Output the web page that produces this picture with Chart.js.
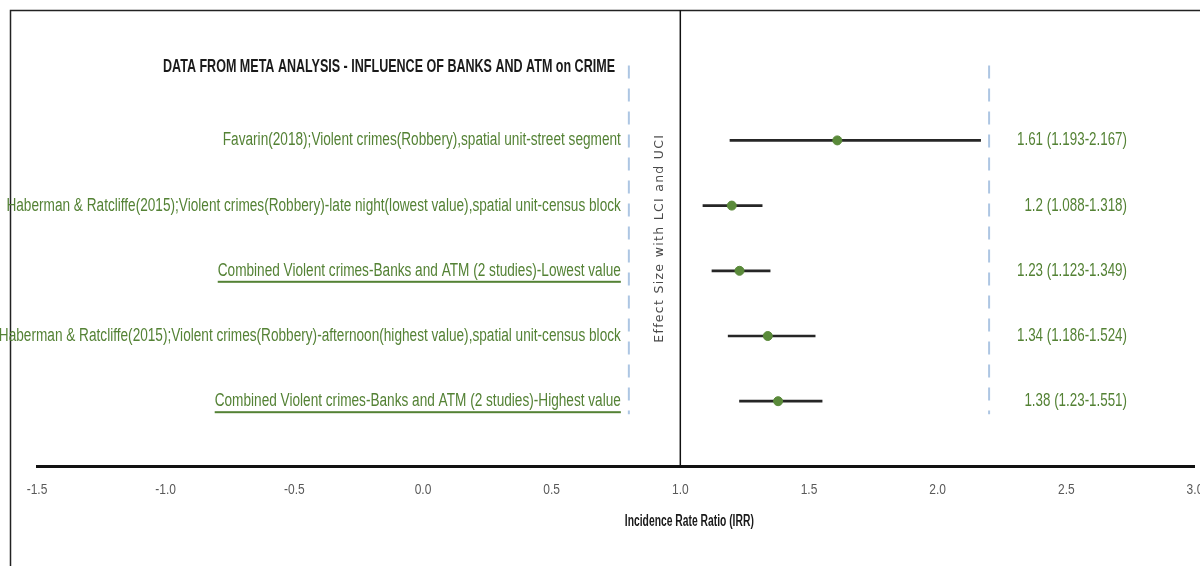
<!DOCTYPE html>
<html>
<head>
<meta charset="utf-8">
<title>Forest plot - banks and ATM</title>
<script src="https://cdn.jsdelivr.net/npm/chart.js@4.4.1/dist/chart.umd.min.js"></script>
<style>
  html, body { margin: 0; padding: 0; background: #fff; }
  #wrap { position: relative; width: 1200px; height: 566px; overflow: hidden; }
</style>
</head>
<body>
<div id="wrap"><canvas id="forest"></canvas></div>
<script>
// data
const chartTitle = 'DATA FROM META ANALYSIS - INFLUENCE OF BANKS AND ATM on CRIME';
const studies = [
    'Favarin(2018);Violent crimes(Robbery),spatial unit-street segment',
    'Haberman & Ratcliffe(2015);Violent crimes(Robbery)-late night(lowest value),spatial unit-census block',
    'Combined Violent crimes-Banks and ATM (2 studies)-Lowest value',
    'Haberman & Ratcliffe(2015);Violent crimes(Robbery)-afternoon(highest value),spatial unit-census block',
    'Combined Violent crimes-Banks and ATM (2 studies)-Highest value'
];
const estimates = [1.61, 1.2, 1.23, 1.34, 1.38];
const lowerCI = [1.193, 1.088, 1.123, 1.186, 1.23];
const upperCI = [2.167, 1.318, 1.349, 1.524, 1.551];
const xTickValues = [-1.5, -1.0, -0.5, 0.0, 0.5, 1.0, 1.5, 2.0, 2.5, 3.0];
const nullEffect = 1.0;
const guideLines = [0.8, 2.2];
const guideSpan = [-0.15, 5.2];
const yRange = [-1, 6];
const xTitle = 'Incidence Rate Ratio (IRR)';
const yTitle = 'Effect Size with LCI and UCI';

const rowY = studies.map((s, i) => i + 1);
const valueLabels = estimates.map((e, i) => `${e} (${lowerCI[i]}-${upperCI[i]})`);

const GREEN = '#548235';
const NARROW = '"Liberation Sans Narrow", "Liberation Sans", Arial, sans-serif';

// draws text squeezed horizontally, to get close to the Calibri look
function squeezeText(ctx, text, x, y, align, sx) {
    ctx.save();
    ctx.translate(x, y);
    ctx.scale(sx, 1);
    ctx.textAlign = align;
    ctx.fillText(text, 0, 0);
    ctx.restore();
}

function fitScale(ctx, font, texts, width) {
    ctx.font = font;
    const w = Math.max(...texts.map(t => ctx.measureText(t).width));
    return Math.min(1, width / w);
}

const forestText = {
    id: 'forestText',
    beforeDraw(chart) {
        const ctx = chart.ctx;
        ctx.save();
        ctx.fillStyle = '#fff';
        ctx.fillRect(0, 0, chart.width, chart.height);
        // outer frame (left and top edges only are in view)
        ctx.strokeStyle = '#222';
        ctx.lineWidth = 1.5;
        ctx.beginPath();
        ctx.moveTo(10.5, chart.height);
        ctx.lineTo(10.5, 10.5);
        ctx.lineTo(chart.width, 10.5);
        ctx.stroke();
        ctx.restore();
    },
    afterDraw(chart, args, opts) {
        const ctx = chart.ctx;
        const xs = chart.scales.x;
        const ys = chart.scales.y;
        const area = chart.chartArea;
        ctx.save();
        ctx.textBaseline = 'middle';

        // title
        const titleFont = 'bold 19px ' + NARROW;
        const tsx = fitScale(ctx, titleFont, [chartTitle], 452);
        ctx.fillStyle = '#1a1a1a';
        squeezeText(ctx, chartTitle, 389, 67, 'center', tsx);

        // study labels, right aligned left of the lower guide line
        const labelFont = '18px ' + NARROW;
        const lsx = fitScale(ctx, labelFont, studies, 622);
        const labelRight = xs.getPixelForValue(guideLines[0]) - 8;
        ctx.fillStyle = GREEN;
        studies.forEach((s, i) => {
            const y = ys.getPixelForValue(rowY[i]);
            squeezeText(ctx, s, labelRight, y, 'right', lsx);
            if (opts.underlined.includes(i)) {
                const w = ctx.measureText(s).width * lsx;
                ctx.fillRect(labelRight - w, y + 10, w, 2);
            }
        });

        // effect size (LCI-UCI) labels
        const valFont = '18px ' + NARROW;
        const vsx = fitScale(ctx, valFont, valueLabels, 110);
        valueLabels.forEach((v, i) => {
            squeezeText(ctx, v, 1127, ys.getPixelForValue(rowY[i]), 'right', vsx);
        });

        // x tick labels, narrow like the original (chart.js keeps them for layout, invisible)
        ctx.font = '15px ' + NARROW;
        ctx.fillStyle = '#595959';
        xs.ticks.forEach(t => {
            squeezeText(ctx, t.value.toFixed(1), xs.getPixelForValue(t.value), xs.top + 23, 'center', 0.8);
        });

        // rotated y title next to the line of no effect
        ctx.font = '12.5px "DejaVu Sans", Verdana, sans-serif';
        ctx.letterSpacing = '1.3px';
        ctx.fillStyle = '#4a4a4a';
        ctx.save();
        ctx.translate(xs.getPixelForValue(nullEffect) - 21, (area.top + area.bottom) / 2);
        ctx.rotate(-Math.PI / 2);
        ctx.textAlign = 'center';
        ctx.fillText(yTitle, 0, 0);
        ctx.restore();
        ctx.letterSpacing = '0px';

        // x title
        const xtFont = 'bold 16px ' + NARROW;
        const xsx = fitScale(ctx, xtFont, [xTitle], 129);
        ctx.fillStyle = '#1a1a1a';
        squeezeText(ctx, xTitle, xs.getPixelForValue(nullEffect) + 9, 522, 'center', xsx);

        ctx.restore();
    }
};

const data = {
    datasets: [
        {
            // confidence intervals as thin floating bars
            type: 'bar',
            indexAxis: 'y',
            data: rowY.map((y, i) => ({ x: [lowerCI[i], upperCI[i]], y: y })),
            backgroundColor: '#262626',
            borderWidth: 0,
            barThickness: 2,
            order: 2
        },
        {
            type: 'scatter',
            data: rowY.map((y, i) => ({ x: estimates[i], y: y })),
            backgroundColor: '#5a8a3a',
            borderColor: '#5a8a3a',
            pointRadius: 4.5,
            order: 1
        },
        {
            type: 'scatter',
            showLine: true,
            data: yRange.map(y => ({ x: nullEffect, y: y })),
            borderColor: '#111',
            borderWidth: 1.5,
            pointRadius: 0,
            order: 3
        },
        ...guideLines.map(g => ({
            type: 'scatter',
            showLine: true,
            data: guideSpan.map(y => ({ x: g, y: y })),
            borderColor: '#adc6e3',
            borderWidth: 2,
            borderDash: [13, 10],
            pointRadius: 0,
            order: 4
        }))
    ]
};

const config = {
    type: 'scatter',
    data: data,
    plugins: [forestText],
    options: {
        responsive: false,
        animation: false,
        layout: {
            padding: { left: 37, right: 5, top: 10, bottom: 62 }
        },
        plugins: {
            legend: { display: false },
            tooltip: { enabled: false },
            forestText: { underlined: [2, 4] }
        },
        scales: {
            x: {
                type: 'linear',
                offset: false,
                min: xTickValues[0],
                max: xTickValues[xTickValues.length - 1],
                afterBuildTicks: scale => {
                    scale.ticks = xTickValues.map(v => ({ value: v }));
                },
                grid: { display: false },
                border: { color: '#111', width: 3 },
                ticks: {
                    padding: 7,
                    color: 'rgba(0,0,0,0)',
                    font: { family: NARROW, size: 13 },
                    callback: v => v.toFixed(1)
                }
            },
            y: {
                type: 'linear',
                display: false,
                offset: false,
                reverse: true,
                min: yRange[0],
                max: yRange[1]
            }
        }
    }
};

// the last tick label is cut by the picture edge, as in the original,
// so the canvas runs a little past the visible frame
const canvas = document.getElementById('forest');
canvas.width = 1211;
canvas.height = 566;
new Chart(canvas, config);
</script>
</body>
</html>
